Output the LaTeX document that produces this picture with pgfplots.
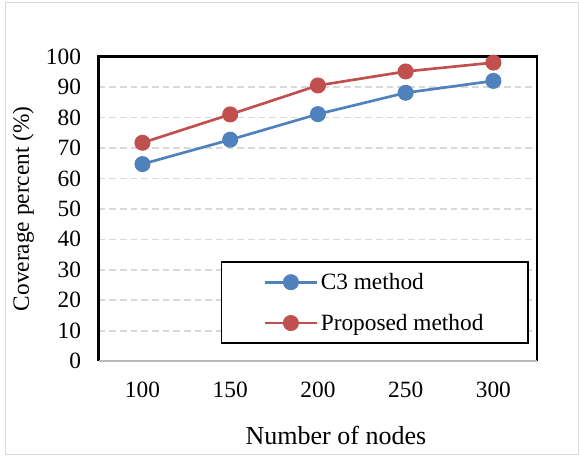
\documentclass[border=0pt]{standalone}
\usepackage{fontspec}
\setmainfont{Liberation Serif}
\usepackage{pgfplots}
\pgfplotsset{compat=1.18}
\definecolor{c3blue}{HTML}{4F81BD}
\definecolor{propred}{HTML}{C0504D}
\definecolor{gridgray}{HTML}{D9D9D9}
\newcommand{\ticksize}{\fontsize{17.5bp}{20bp}\selectfont}

\begin{document}
\begin{tikzpicture}
\useasboundingbox (-73.95bp,-71.1bp) rectangle (360.3bp,270.9bp);
\draw[gray!30, line width=0.75bp] (-69.8bp,-70.3bp) rectangle (359.6bp,268.9bp);
\begin{axis}[
  at={(0,0)}, anchor=south west,
  scale only axis, width=329bp, height=228.5bp,
  xmin=-0.5, xmax=4.5, ymin=0, ymax=100,
  xtick={0,...,4}, xticklabels={100,150,200,250,300},
  ytick={0,10,...,100},
  major tick length=0pt,
  ymajorgrids,
  grid style={gridgray, dash pattern=on 5bp off 3bp, line width=1.2bp},
  axis line style={draw=none},
  ticklabel style={font=\ticksize},
  /pgf/number format/assume math mode=true,
  xticklabel style={yshift=-12bp},
  yticklabel style={xshift=-9.7bp},
  xlabel={Number of nodes},
  xlabel style={font=\fontsize{19.5bp}{22bp}\selectfont,
    at={(axis description cs:0.541,0)}, anchor=center, yshift=-56bp},
  ylabel={Coverage percent (\%)},
  ylabel style={font=\ticksize,
    at={(axis description cs:0,0.5)}, anchor=center, yshift=56.5bp},
  clip=false,
  legend cell align=left,
  legend style={at={(0.279,0.057)}, anchor=south west, draw=black,
    line width=1.1bp, font=\ticksize, inner xsep=31.5bp, inner ysep=6.25bp,
    row sep=13bp, fill=white},
  legend image code/.code={%
    \draw[mark repeat=2, mark phase=2, #1]
      plot coordinates {(0bp,0bp) (19.4bp,0bp) (38.8bp,0bp)};},
  every axis plot/.append style={line width=2bp, mark=*, mark size=5bp,
    mark options={solid}},
]
% plot area frame: black on three sides, grey axis line at the bottom
\draw[black, line width=1.7bp]
  (rel axis cs:0,0) -- (rel axis cs:0,1) -- (rel axis cs:1,1) -- (rel axis cs:1,0);
\draw[gray!55, line width=1.5bp] (rel axis cs:0,0) -- (rel axis cs:1,0);
\addplot[c3blue, mark options={fill=c3blue, draw=c3blue}] coordinates {
  (0,64.7) (1,72.7) (2,81.1) (3,88.1) (4,92.0)
};
\addplot[propred, mark options={fill=propred, draw=propred}] coordinates {
  (0,71.7) (1,81.0) (2,90.5) (3,95.1) (4,98.0)
};
\legend{C3 method, Proposed method}
\end{axis}
\end{tikzpicture}
\end{document}
